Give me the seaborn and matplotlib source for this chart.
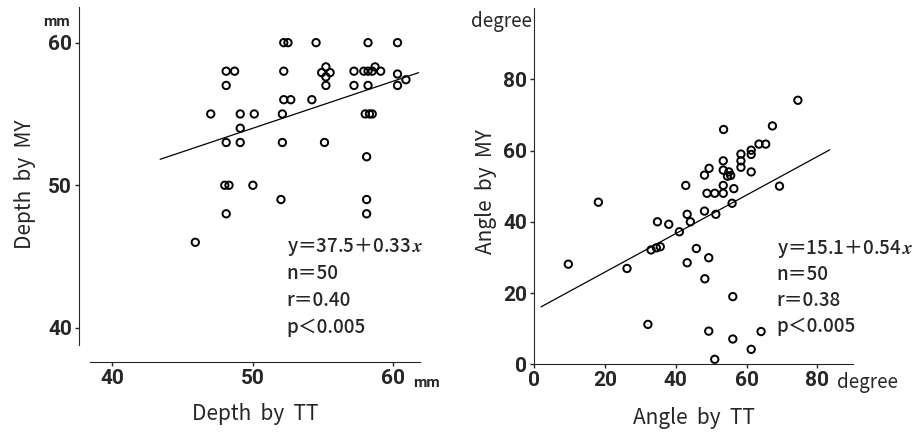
import numpy as np
import pandas as pd
import matplotlib
matplotlib.use("Agg")
import matplotlib.pyplot as plt
import seaborn as sns

# Depth panel (mm)
depth_tt = [52.2, 52.5, 54.5, 58.2, 60.3,
            48.1, 48.7, 52.2, 54.9, 55.2, 55.5, 55.2, 57.2, 57.9, 58.2, 58.5, 58.7, 59.1, 60.3, 60.9,
            48.1, 55.2, 57.2, 58.2, 60.3,
            52.2, 52.7, 54.2,
            47.0, 49.1, 50.1, 52.1, 58.0, 58.3, 58.5,
            49.1,
            48.1, 49.1, 52.1, 55.1,
            58.1,
            48.0, 48.3, 50.0,
            52.0, 58.1,
            48.1, 58.1,
            45.9]
depth_my = [60, 60, 60, 60, 60,
            58, 58, 58, 57.9, 58.3, 57.9, 57.6, 58, 58, 58, 58, 58.3, 58, 57.8, 57.4,
            57, 57, 57, 57, 57,
            56, 56, 56,
            55, 55, 55, 55, 55, 55, 55,
            54,
            53, 53, 53, 53,
            52,
            50, 50, 50,
            49, 49,
            48, 48,
            46]

# Angle panel (degree)
angle_tt = [74.5, 67.3, 63.5, 65.4, 61.3, 61.3, 58.4, 58.4, 58.4, 61.3,
            53.5, 53.4, 49.4, 48.1, 53.4, 55.0, 55.5, 54.6, 42.8, 53.4,
            48.8, 51.0, 53.4, 56.4, 69.3, 55.9, 18.1, 48.1, 43.2, 51.3,
            34.8, 38.0, 41.0, 44.1, 33.0, 34.5, 35.6, 45.8, 43.2, 49.3,
            48.2, 9.6, 26.2, 56.1, 32.1, 49.3, 56.1, 64.1, 61.3, 51.0]
angle_my = [74.1, 66.9, 61.8, 61.8, 60.1, 58.9, 59.0, 57.1, 55.3, 54.0,
            65.9, 57.1, 55.0, 53.1, 54.5, 54.0, 53.0, 52.8, 50.2, 50.2,
            48.0, 48.0, 48.0, 49.3, 50.0, 45.2, 45.5, 43.0, 42.1, 42.1,
            40.0, 39.3, 37.2, 40.0, 32.1, 32.7, 33.0, 32.5, 28.5, 29.9,
            24.0, 28.1, 26.9, 19.0, 11.2, 9.3, 7.1, 9.2, 4.2, 1.4]

# regression lines as printed in the figure
depth_fit = (37.5, 0.33)
depth_fit_x = [43.4, 61.8]
angle_fit = (15.1, 0.54)
angle_fit_x = [1.9, 83.5]

depth_ticks = [40, 50, 60]
angle_ticks = [0, 20, 40, 60, 80]

depth_stats = ["y＝37.5＋0.33$\\,x$", "n＝50", "r＝0.40", "p＜0.005"]
angle_stats = ["y＝15.1＋0.54$\\,x$", "n＝50", "r＝0.38", "p＜0.005"]

sns.set_style("ticks")
plt.rcParams["font.family"] = ["Roboto", "DejaVu Sans"]
plt.rcParams["mathtext.fontset"] = "custom"
plt.rcParams["mathtext.it"] = "STIXGeneral:italic:bold"
plt.rcParams["mathtext.rm"] = "STIXGeneral"

label_font = ["Noto Sans CJK JP", "DejaVu Sans"]

fig = plt.figure(figsize=(9.17, 4.32), dpi=100)
ax1 = fig.add_axes([0.0981, 0.2014, 0.3599, 0.7824])
ax2 = fig.add_axes([0.5827, 0.1567, 0.3472, 0.8248])

df1 = pd.DataFrame({"tt": depth_tt, "my": depth_my})
df2 = pd.DataFrame({"tt": angle_tt, "my": angle_my})

for ax, df, fit, fx in [(ax1, df1, depth_fit, depth_fit_x), (ax2, df2, angle_fit, angle_fit_x)]:
    sns.scatterplot(data=df, x="tt", y="my", ax=ax, s=28, facecolor="none",
                    edgecolor="black", linewidth=1.4, legend=False)
    lx = np.array(fx)
    sns.lineplot(x=lx, y=fit[0] + fit[1] * lx, ax=ax, color="black", linewidth=0.9)

# spines first, since moving them resets the tick styling
sns.despine(ax=ax1, offset={"left": 8, "bottom": 12})
sns.despine(ax=ax2)

for ax, ticks in [(ax1, depth_ticks), (ax2, angle_ticks)]:
    ax.set_xticks(ticks)
    ax.set_yticks(ticks)
    ax.set_xticklabels([str(t) for t in ticks], fontweight="bold", fontsize=15)
    ax.set_yticklabels([str(t) for t in ticks], fontweight="bold", fontsize=15)
    ax.tick_params(direction="out", length=3, width=1, pad=2)

# left panel
ax1.set_xlim(38.4, 61.9)
ax1.set_ylim(38.8, 62.5)
ax1.set_xlabel("Depth  by  TT", family=label_font, fontsize=15)
ax1.set_ylabel("Depth  by  MY", family=label_font, fontsize=15)
ax1.xaxis.set_label_coords(0.50, -0.172)
ax1.yaxis.set_label_coords(-0.162, 0.476)
ax1.text(-0.06, 0.955, "mm", transform=ax1.transAxes, ha="right", va="center",
         fontsize=11, fontweight="bold")
ax1.text(0.979, -0.113, "mm", transform=ax1.transAxes, ha="left", va="center",
         fontsize=11, fontweight="bold")
for i, t in enumerate(depth_stats):
    ax1.text(52.4, 45.7 - i * 1.88, t, ha="left", va="center", fontsize=13.5,
             family=label_font, fontweight="medium")

# right panel
ax2.set_xlim(0, 90)
ax2.set_ylim(0, 100)
ax2.set_xlabel("Angle  by  TT", family=label_font, fontsize=15)
ax2.set_ylabel("Angle  by  MY", family=label_font, fontsize=15)
ax2.xaxis.set_label_coords(0.50, -0.12)
ax2.yaxis.set_label_coords(-0.118, 0.486)
ax2.text(-0.008, 0.963, "degree", transform=ax2.transAxes, ha="right", va="center",
         family=label_font, fontsize=13.5)
ax2.text(85.6, -5, "degree", ha="left", va="center", family=label_font, fontsize=13.5)
for i, t in enumerate(angle_stats):
    ax2.text(68.5, 32.5 - i * 7.3, t, ha="left", va="center", fontsize=13.5,
             family=label_font, fontweight="medium")

fig.savefig("out.png", dpi=100)
